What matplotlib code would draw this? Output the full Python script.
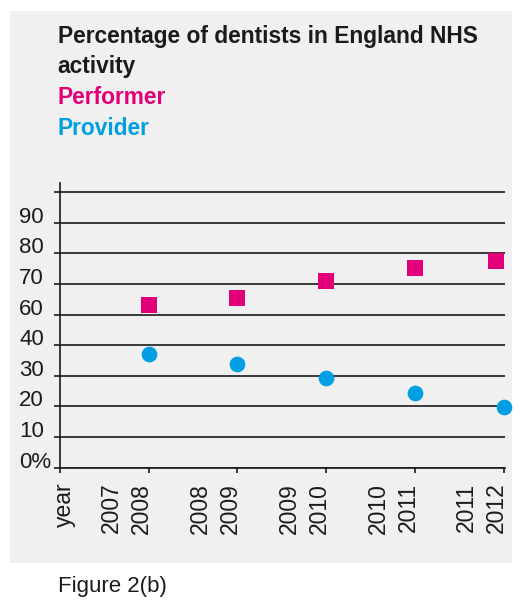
import numpy as np
import matplotlib
matplotlib.use("Agg")
import matplotlib.pyplot as plt
from matplotlib.patches import Rectangle
from matplotlib.transforms import ScaledTranslation, blended_transform_factory

plt.rcParams['font.family'] = ['Liberation Sans', 'DejaVu Sans']

# ---- data ----
year_line1 = ['year', '2007', '2008', '2009', '2010', '2011']
year_line2 = ['', '2008', '2009', '2010', '2011', '2012']
performer = [63, 65.3, 71, 75.3, 77.4]      # % performer, 2007/08 .. 2011/12
provider = [37, 33.9, 29.2, 24.4, 19.8]     # % provider
ytick_values = [0, 10, 20, 30, 40, 60, 70, 80, 90, 100]
ytick_labels = ['0%', '10', '20', '30', '40', '60', '70', '80', '90', '']

title_lines = ['Percentage of dentists in England NHS', 'activity']
series_names = ['Performer', 'Provider']
caption = 'Figure 2(b)'

DARK = '#1b1b1b'
MAGENTA = '#e2007a'
BLUE = '#009fe3'
PANEL = '#f0f0f0'

W, H, DPI = 528, 607, 100
fig = plt.figure(figsize=(W / DPI, H / DPI), dpi=DPI, facecolor='white')

def fx(px):
    return px / W

def fy(py):
    return 1 - py / H

# grey panel
fig.patches.append(Rectangle((fx(10), fy(563)), (512 - 10) / W, (563 - 11) / H,
                             transform=fig.transFigure, facecolor=PANEL,
                             edgecolor='none', zorder=-10))

# axes
ax = fig.add_axes([fx(60), fy(467.7), 445 / W, (467.7 - 182.7) / H])
ax.set_facecolor('none')

# the chart's value axis skips 50: 40 -> 60 occupies one grid interval
def fwd(v):
    v = np.asarray(v, dtype=float)
    return np.where(v <= 40, v, np.where(v < 60, 40 + (v - 40) / 2, v - 10))

def inv(p):
    p = np.asarray(p, dtype=float)
    return np.where(p <= 40, p, np.where(p < 50, 40 + (p - 40) * 2, p + 10))

ax.set_yscale('function', functions=(fwd, inv))
ax.set_ylim(0, 103.03)
n = len(year_line1)
ax.set_xlim(0, 5.015)

xpos = np.arange(1, len(performer) + 1)
sq = dict(linestyle='none', marker='s', markersize=12.2, markeredgewidth=0,
          color=MAGENTA, clip_on=False, zorder=5)
ax.plot(xpos[:-1], performer[:-1], **sq)
# last square is nudged inside the plot edge in the original
ax.plot(xpos[-1:], performer[-1:],
        transform=ax.transData + ScaledTranslation(-7.2 / DPI, 0, fig.dpi_scale_trans),
        **sq)
ax.plot(xpos, provider, linestyle='none', marker='o', markersize=11.3,
        markeredgewidth=0, color=BLUE, clip_on=False, zorder=5)

LW = 1.2
ax.set_yticks(ytick_values)
ax.set_yticklabels(ytick_labels)
ax.yaxis.grid(True, color=DARK, linewidth=LW)
ax.set_axisbelow(True)
ax.tick_params(axis='y', direction='out', length=4.3, width=LW, color=DARK,
               pad=25.2, labelsize=16, labelcolor=DARK)
for lab in ax.get_yticklabels():
    lab.set_horizontalalignment('left')
    lab.set_verticalalignment('baseline')

ax.set_xticks(np.arange(n))
ax.tick_params(axis='x', direction='out', length=3.6, width=LW, color=DARK,
               labelbottom=False)

for s in ['top', 'right']:
    ax.spines[s].set_visible(False)
for s in ['left', 'bottom']:
    ax.spines[s].set_linewidth(LW)
    ax.spines[s].set_color(DARK)

# rotated two-line year labels
base = blended_transform_factory(ax.transData, fig.transFigure)
ytop = fy(482.7)
for i, (l1, l2) in enumerate(zip(year_line1, year_line2)):
    if l2 == '':
        tr = base + ScaledTranslation(11 / DPI, 0, fig.dpi_scale_trans)
        ax.text(i, ytop, l1, rotation=90, rotation_mode='anchor', ha='right',
                va='baseline', fontsize=16.5, color=DARK, transform=tr)
    else:
        tr1 = base + ScaledTranslation(-30.5 / DPI, 0, fig.dpi_scale_trans)
        tr2 = base + ScaledTranslation(-0.5 / DPI, 0, fig.dpi_scale_trans)
        ax.text(i, ytop, l1, rotation=90, rotation_mode='anchor', ha='right',
                va='baseline', fontsize=16.5, color=DARK, transform=tr1)
        ax.text(i, ytop, l2, rotation=90, rotation_mode='anchor', ha='right',
                va='baseline', fontsize=16.5, color=DARK, transform=tr2)

# title block
fig.text(fx(57.5), fy(43.3), title_lines[0], fontsize=16.4, fontweight='bold',
         color=DARK, va='baseline', ha='left')
fig.text(fx(57.5), fy(72.7), title_lines[1], fontsize=16.4, fontweight='bold',
         color=DARK, va='baseline', ha='left')
fig.text(fx(57.5), fy(104), series_names[0], fontsize=16.4, fontweight='bold',
         color=MAGENTA, va='baseline', ha='left')
fig.text(fx(57.5), fy(135), series_names[1], fontsize=16.4, fontweight='bold',
         color=BLUE, va='baseline', ha='left')

fig.text(fx(57.5), fy(592.3), caption, fontsize=16, color=DARK,
         va='baseline', ha='left')

fig.savefig('out.png', dpi=DPI, facecolor='white')
